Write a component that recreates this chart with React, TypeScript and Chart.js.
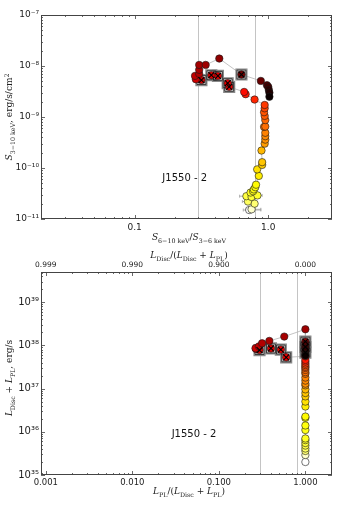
import React, { useEffect, useRef } from "react";
import { Chart, registerables } from "chart.js";
Chart.register(...registerables);

// ---------- Top panel: hardness ratio vs 3-10 keV flux ----------
const topRatio = [0.72, 0.75, 0.79, 0.705, 0.686, 0.75, 0.83, 0.737, 0.77, 0.78, 0.8, 0.81, 0.85, 0.826, 0.9, 0.9, 0.89, 0.94, 0.95, 0.95, 0.95, 0.93, 0.95, 0.95, 0.94, 0.93, 0.94, 0.94, 0.79, 0.677, 0.66, 0.51, 0.497, 0.42, 0.375, 0.316, 0.287, 0.283, 0.304, 0.304, 0.304, 0.34, 0.43, 0.63, 0.88, 0.978, 1.0, 1.01, 1.02, 1.02];
const topFlux = [1.5e-11, 1.55e-11, 2.0e-11, 2.2e-11, 2.8e-11, 2.7e-11, 2.9e-11, 3.3e-11, 3.5e-11, 3.8e-11, 4.2e-11, 4.7e-11, 7e-11, 9.4e-11, 1.15e-10, 1.3e-10, 2.2e-10, 3.0e-10, 3.6e-10, 4.2e-10, 4.9e-10, 6.4e-10, 6.5e-10, 8.7e-10, 1.05e-9, 1.24e-9, 1.48e-9, 1.72e-9, 2.2e-9, 2.8e-9, 3.1e-9, 3.9e-9, 4.6e-9, 6.4e-9, 6.6e-9, 5.3e-9, 5.5e-9, 6.4e-9, 7e-9, 8.4e-9, 1.05e-8, 1.05e-8, 1.4e-8, 6.8e-9, 5.1e-9, 4.2e-9, 3.9e-9, 3.4e-9, 3.0e-9, 2.5e-9];
const topMarked = [31, 32, 33, 34, 35, 43];
const topErrIdx = [0, 1, 3, 4, 6];
const topErrLo = [0.65, 0.68, 0.64, 0.61, 0.76];
const topErrHi = [0.88, 0.88, 0.8, 0.78, 0.9];
const topXTicks = [0.1, 1.0];
const topXTickLabels = ["0.1", "1.0"];
const topYTicks = [1e-11, 1e-10, 1e-9, 1e-8, 1e-7];
const topYTickLabels = ["10⁻¹¹", "10⁻¹⁰", "10⁻⁹", "10⁻⁸", "10⁻⁷"];

// ---------- Bottom panel: PL fraction vs total luminosity ----------
const botFrac = [1, 1, 1, 1, 1, 1, 1, 1, 1, 1, 1, 1, 1, 1, 1, 1, 1, 1, 1, 1, 1, 1, 1, 1, 1, 1, 1, 1, 1, 1, 1, 0.6, 0.52, 0.4, 0.295, 0.27, 0.265, 0.29, 0.316, 0.383, 0.57, 1, 1, 1, 1, 1, 1, 1, 1, 1];
const botLum = [2.0e35, 2.9e35, 3.6e35, 4.1e35, 4.8e35, 5.5e35, 6.4e35, 7.0e35, 1.1e36, 1.4e36, 2.1e36, 2.25e36, 3.85e36, 5.0e36, 6.6e36, 7.9e36, 9.6e36, 1.19e37, 1.3e37, 1.53e37, 1.8e37, 2.2e37, 2.4e37, 2.7e37, 3.0e37, 3.2e37, 3.5e37, 3.8e37, 4.2e37, 4.6e37, 5.6e37, 5.3e37, 8.0e37, 8.5e37, 7.8e37, 8.2e37, 8.6e37, 9.5e37, 1.12e38, 1.27e38, 1.6e38, 2.36e38, 1.22e38, 9.2e37, 6.8e37, 1.05e38, 8.5e37, 7.5e37, 6.2e37, 5.8e37];
const botMarked = [31, 32, 33, 34, 42, 43, 44];
const botXTicks = [0.001, 0.01, 0.1, 1.0];
const botXTickLabels = ["0.001", "0.010", "0.100", "1.000"];
const botTopTickLabels = ["0.999", "0.990", "0.900", "0.000"];
const botYTicks = [1e35, 1e36, 1e37, 1e38, 1e39];
const botYTickLabels = ["10³⁵", "10³⁶", "10³⁷", "10³⁸", "10³⁹"];

// colour-map position (hot) of each observation, in time order (shared by both panels)
const obsShade = [1.0, 0.95, 0.86, 0.84, 0.81, 0.8, 0.79, 0.78, 0.77, 0.76, 0.75, 0.74, 0.72, 0.7, 0.67, 0.66, 0.64, 0.6, 0.58, 0.57, 0.56, 0.54, 0.53, 0.52, 0.5, 0.49, 0.47, 0.45, 0.42, 0.4, 0.38, 0.34, 0.33, 0.32, 0.31, 0.3, 0.29, 0.27, 0.25, 0.24, 0.23, 0.22, 0.2, 0.16, 0.14, 0.11, 0.08, 0.05, 0.03, 0.0];

const stateLines = [0.3, 0.8];
const sourceName = "J1550 - 2";

const SERIF = '"DejaVu Serif", serif';
const SANS = '"DejaVu Sans", sans-serif';

function hot(v: number) {
  const r = v < 0.365079 ? 0.0416 + (1 - 0.0416) * (v / 0.365079) : 1;
  const g = v < 0.365079 ? 0 : v < 0.746032 ? (v - 0.365079) / (0.746032 - 0.365079) : 1;
  const b = v < 0.746032 ? 0 : (v - 0.746032) / (1 - 0.746032);
  return `rgb(${Math.round(r * 255)},${Math.round(g * 255)},${Math.round(b * 255)})`;
}

type Seg = { t: string; it?: boolean; sub?: boolean; sup?: boolean };
function drawRich(ctx: CanvasRenderingContext2D, segs: Seg[], x: number, y: number, size: number, rot = false) {
  ctx.save();
  ctx.translate(x, y);
  if (rot) ctx.rotate(-Math.PI / 2);
  const font = (s: Seg) => `${s.it ? "italic " : ""}${s.sub || s.sup ? size * 0.7 : size}px ${SERIF}`;
  let w = 0;
  for (const s of segs) {
    ctx.font = font(s);
    w += ctx.measureText(s.t).width;
  }
  let cx = -w / 2;
  ctx.fillStyle = "#222";
  ctx.textAlign = "left";
  ctx.textBaseline = "alphabetic";
  for (const s of segs) {
    ctx.font = font(s);
    const dy = s.sub ? size * 0.28 : s.sup ? -size * 0.4 : 0;
    ctx.fillText(s.t, cx, size * 0.35 + dy);
    cx += ctx.measureText(s.t).width;
  }
  ctx.restore();
}

function minorTicks(min: number, max: number) {
  const out: number[] = [];
  for (let e = Math.floor(Math.log10(min)); e <= Math.ceil(Math.log10(max)); e++) {
    for (let k = 2; k <= 9; k++) {
      const v = k * Math.pow(10, e);
      if (v > min * 1.0001 && v < max * 0.9999) out.push(v);
    }
  }
  return out;
}

interface Panel {
  xs: number[];
  ys: number[];
  marked: number[];
  errIdx: number[];
  errLo: number[];
  errHi: number[];
  xMin: number;
  xMax: number;
  yMin: number;
  yMax: number;
  xTicks: number[];
  xLabels: string[];
  yTicks: number[];
  yLabels: string[];
  topLabels?: string[];
  xFont: number;
  yFont: number;
  padTop: number;
  xAxisH: number;
  topAxisH: number;
  text: { x: number; y: number };
  titles: (ctx: CanvasRenderingContext2D) => void;
}

function build(canvas: HTMLCanvasElement, p: Panel) {
  const pts = p.xs.map((x, i) => ({ x, y: p.ys[i] }));
  const mk = p.marked.map((i) => pts[i]);
  const colors = obsShade.map(hot);

  const deco = {
    id: "deco",
    beforeDatasetsDraw(chart: any) {
      const { ctx, chartArea: a, scales } = chart;
      const X = scales.x, Y = scales.y;
      ctx.save();
      ctx.beginPath();
      ctx.rect(a.left, a.top, a.right - a.left, a.bottom - a.top);
      ctx.clip();
      ctx.strokeStyle = "#c4c4c4";
      ctx.lineWidth = 1;
      for (const v of stateLines) {
        const px = Math.round(X.getPixelForValue(v)) + 0.5;
        ctx.beginPath();
        ctx.moveTo(px, a.top);
        ctx.lineTo(px, a.bottom);
        ctx.stroke();
      }
      ctx.strokeStyle = "#a0a0a0";
      ctx.lineWidth = 0.8;
      p.errIdx.forEach((i, k) => {
        const py = Y.getPixelForValue(p.ys[i]);
        const x1 = X.getPixelForValue(p.errLo[k]);
        const x2 = X.getPixelForValue(p.errHi[k]);
        ctx.beginPath();
        ctx.moveTo(x1, py);
        ctx.lineTo(x2, py);
        ctx.moveTo(x1, py - 1.5);
        ctx.lineTo(x1, py + 1.5);
        ctx.moveTo(x2, py - 1.5);
        ctx.lineTo(x2, py + 1.5);
        ctx.stroke();
      });
      ctx.restore();
    },
    afterDatasetsDraw(chart: any) {
      const { ctx, scales } = chart;
      ctx.save();
      ctx.font = `10px ${SANS}`;
      ctx.fillStyle = "#111";
      ctx.textAlign = "center";
      ctx.textBaseline = "middle";
      ctx.fillText(sourceName, scales.x.getPixelForValue(p.text.x), scales.y.getPixelForValue(p.text.y));
      ctx.restore();
    },
    afterDraw(chart: any) {
      const { ctx, chartArea: a, scales } = chart;
      const X = scales.x, Y = scales.y;
      ctx.save();
      ctx.strokeStyle = "#444";
      ctx.lineWidth = 1;
      ctx.strokeRect(a.left + 0.5, a.top + 0.5, a.right - a.left - 1, a.bottom - a.top - 1);
      const xm = minorTicks(p.xMin, p.xMax);
      const ym = minorTicks(p.yMin, p.yMax);
      const tick = (x1: number, y1: number, x2: number, y2: number) => {
        ctx.beginPath();
        ctx.moveTo(x1, y1);
        ctx.lineTo(x2, y2);
        ctx.stroke();
      };
      ctx.lineWidth = 0.8;
      for (const v of [...p.xTicks, ...xm]) {
        const L = p.xTicks.includes(v) ? 4 : 2;
        const px = Math.round(X.getPixelForValue(v)) + 0.5;
        tick(px, a.bottom, px, a.bottom - L);
        tick(px, a.top, px, a.top + L);
      }
      for (const v of [...p.yTicks, ...ym]) {
        const L = p.yTicks.includes(v) ? 4 : 2;
        const py = Math.round(Y.getPixelForValue(v)) + 0.5;
        tick(a.left, py, a.left + L, py);
        tick(a.right, py, a.right - L, py);
      }
      ctx.restore();
      p.titles(ctx);
    },
  };

  const scales: any = {
    x: {
      type: "logarithmic",
      position: "bottom",
      min: p.xMin,
      max: p.xMax,
      grid: { display: false, drawTicks: false },
      border: { display: false },
      ticks: {
        autoSkip: false,
        maxRotation: 0,
        padding: 3,
        color: "#222",
        font: { family: SANS, size: p.xFont },
        callback: (_v: any, i: number) => p.xLabels[i],
      },
      afterBuildTicks: (s: any) => {
        s.ticks = p.xTicks.map((v) => ({ value: v }));
      },
      afterFit: (s: any) => {
        s.height = p.xAxisH;
      },
    },
    y: {
      type: "logarithmic",
      position: "left",
      min: p.yMin,
      max: p.yMax,
      grid: { display: false, drawTicks: false },
      border: { display: false },
      ticks: {
        autoSkip: false,
        padding: 2,
        color: "#222",
        font: { family: SANS, size: p.yFont },
        callback: (_v: any, i: number) => p.yLabels[i],
      },
      afterBuildTicks: (s: any) => {
        s.ticks = p.yTicks.map((v) => ({ value: v }));
      },
      afterFit: (s: any) => {
        s.width = 41;
      },
    },
  };
  if (p.topLabels) {
    scales.x2 = {
      type: "logarithmic",
      position: "top",
      min: p.xMin,
      max: p.xMax,
      grid: { display: false, drawTicks: false },
      border: { display: false },
      ticks: {
        autoSkip: false,
        maxRotation: 0,
        padding: 2,
        color: "#222",
        font: { family: SANS, size: 7.5 },
        callback: (_v: any, i: number) => p.topLabels![i],
      },
      afterBuildTicks: (s: any) => {
        s.ticks = p.xTicks.map((v) => ({ value: v }));
      },
      afterFit: (s: any) => {
        s.height = p.topAxisH;
      },
    };
  }

  return new Chart(canvas, {
    type: "scatter",
    data: {
      datasets: [
        { data: pts, showLine: true, borderColor: "#b4b4b4", borderWidth: 0.8, pointRadius: 0, order: 6 } as any,
        { data: mk, pointStyle: "rect", pointRadius: 7.6, backgroundColor: "#d6d6d6", borderColor: "#8a8a8a", borderWidth: 1.4, order: 5 },
        { data: mk, pointStyle: "rect", pointRadius: 6.3, backgroundColor: "rgba(0,0,0,0)", borderColor: "#1a1a1a", borderWidth: 0.8, order: 4 },
        { data: pts, pointStyle: "circle", pointRadius: 3.7, backgroundColor: colors, borderColor: "#1a1a1a", borderWidth: 0.6, order: 3 },
        { data: mk, pointStyle: "crossRot", pointRadius: 4.2, borderColor: "#000", borderWidth: 1.1, order: 2 },
      ],
    },
    options: {
      animation: false,
      responsive: false,
      maintainAspectRatio: false,
      events: [],
      devicePixelRatio: 1,
      layout: { padding: { top: p.padTop, right: 4, left: 0, bottom: 0 } },
      plugins: { legend: { display: false }, tooltip: { enabled: false } },
      scales,
    },
    plugins: [deco],
  });
}

export default function App() {
  const topRef = useRef<HTMLCanvasElement>(null);
  const botRef = useRef<HTMLCanvasElement>(null);
  useEffect(() => {
    const c1 = build(topRef.current!, {
      xs: topRatio,
      ys: topFlux,
      marked: topMarked,
      errIdx: topErrIdx,
      errLo: topErrLo,
      errHi: topErrHi,
      xMin: 0.0199,
      xMax: 3.0,
      yMin: 1e-11,
      yMax: 1e-7,
      xTicks: topXTicks,
      xLabels: topXTickLabels,
      yTicks: topYTicks,
      yLabels: topYTickLabels,
      xFont: 9,
      yFont: 9,
      padTop: 15,
      xAxisH: 31,
      topAxisH: 0,
      text: { x: 0.237, y: 6.3e-11 },
      titles: (ctx) => {
        drawRich(ctx, [{ t: "S", it: true }, { t: "3−10 keV", sub: true }, { t: ", erg/s/cm" }, { t: "2", sup: true }], 9, 117, 9, true);
        drawRich(ctx, [{ t: "S", it: true }, { t: "6−10 keV", sub: true }, { t: "/" }, { t: "S", it: true }, { t: "3−6 keV", sub: true }], 189, 237, 9);
      },
    });
    const c2 = build(botRef.current!, {
      xs: botFrac,
      ys: botLum,
      marked: botMarked,
      errIdx: [],
      errLo: [],
      errHi: [],
      xMin: 0.00088,
      xMax: 2.03,
      yMin: 1e35,
      yMax: 5e39,
      xTicks: botXTicks,
      xLabels: botXTickLabels,
      yTicks: botYTicks,
      yLabels: botYTickLabels,
      topLabels: botTopTickLabels,
      xFont: 8.5,
      yFont: 10,
      padTop: 0,
      xAxisH: 36,
      topAxisH: 22,
      text: { x: 0.0516, y: 8.7e35 },
      titles: (ctx) => {
        drawRich(ctx, [{ t: "L", it: true }, { t: "Disc", sub: true }, { t: " + " }, { t: "L", it: true }, { t: "PL", sub: true }, { t: ", erg/s" }], 9, 128, 9, true);
        drawRich(ctx, [{ t: "L", it: true }, { t: "PL", sub: true }, { t: "/(" }, { t: "L", it: true }, { t: "Disc", sub: true }, { t: " + " }, { t: "L", it: true }, { t: "PL", sub: true }, { t: ")" }], 189, 241, 9);
        drawRich(ctx, [{ t: "L", it: true }, { t: "Disc", sub: true }, { t: "/(" }, { t: "L", it: true }, { t: "Disc", sub: true }, { t: " + " }, { t: "L", it: true }, { t: "PL", sub: true }, { t: ")" }], 189, 5, 9);
      },
    });
    return () => {
      c1.destroy();
      c2.destroy();
    };
  }, []);
  return (
    <div style={{ position: "absolute", left: 0, top: 0, width: 341, height: 511, background: "#fff" }}>
      <canvas ref={topRef} width={341} height={250} style={{ display: "block", width: 341, height: 250 }} />
      <canvas ref={botRef} width={341} height={261} style={{ display: "block", width: 341, height: 261 }} />
    </div>
  );
}
